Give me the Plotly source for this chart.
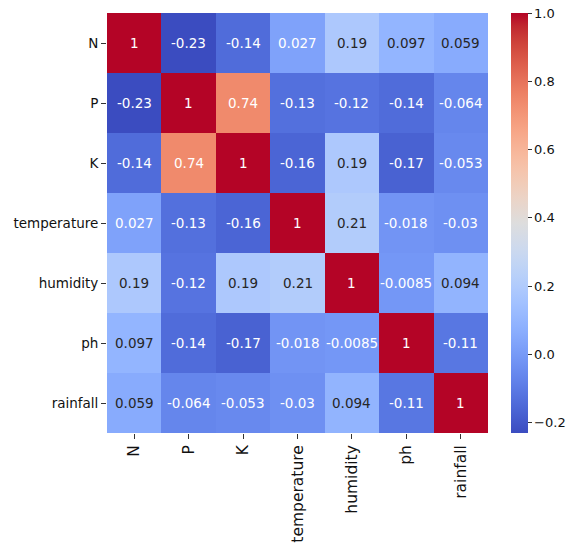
import plotly.graph_objects as go

labels = ["N", "P", "K", "temperature", "humidity", "ph", "rainfall"]
row_N = [1, -0.23, -0.14, 0.027, 0.19, 0.097, 0.059]
row_P = [-0.23, 1, 0.74, -0.13, -0.12, -0.14, -0.064]
row_K = [-0.14, 0.74, 1, -0.16, 0.19, -0.17, -0.053]
row_temperature = [0.027, -0.13, -0.16, 1, 0.21, -0.018, -0.03]
row_humidity = [0.19, -0.12, 0.19, 0.21, 1, -0.0085, 0.094]
row_ph = [0.097, -0.14, -0.17, -0.018, -0.0085, 1, -0.11]
row_rainfall = [0.059, -0.064, -0.053, -0.03, 0.094, -0.11, 1]
matrix = [row_N, row_P, row_K, row_temperature, row_humidity, row_ph, row_rainfall]
cbar_ticks = [-0.2, 0.0, 0.2, 0.4, 0.6, 0.8, 1.0]

# matplotlib "coolwarm" control points
coolwarm = [
    (59, 76, 192), (68, 90, 204), (77, 104, 215), (87, 117, 225), (98, 130, 234),
    (108, 142, 241), (119, 154, 247), (130, 165, 251), (141, 176, 254), (152, 185, 255),
    (163, 194, 255), (174, 201, 253), (184, 208, 249), (194, 213, 244), (204, 217, 238),
    (213, 219, 230), (221, 221, 221), (229, 216, 209), (236, 211, 197), (241, 204, 184),
    (245, 196, 172), (247, 187, 160), (247, 177, 148), (247, 166, 135), (244, 154, 123),
    (241, 141, 111), (236, 127, 99), (229, 112, 89), (222, 96, 77), (213, 80, 66),
    (203, 62, 56), (192, 40, 47), (180, 4, 38),
]
n = len(coolwarm) - 1
colorscale = [[i / n, "rgb(%d,%d,%d)" % c] for i, c in enumerate(coolwarm)]

zmin = min(min(r) for r in matrix)
zmax = max(max(r) for r in matrix)


def cmap(t):
    t = max(0.0, min(1.0, t))
    p = t * n
    i = min(int(p), n - 1)
    f = p - i
    a, b = coolwarm[i], coolwarm[i + 1]
    return tuple(a[k] + (b[k] - a[k]) * f for k in range(3))


def luminance(rgb):
    out = []
    for c in rgb:
        c = c / 255.0
        out.append(c / 12.92 if c <= 0.03928 else ((c + 0.055) / 1.055) ** 2.4)
    return 0.2126 * out[0] + 0.7152 * out[1] + 0.0722 * out[2]


annotations = []
for i, row in enumerate(matrix):
    for j, v in enumerate(row):
        col = cmap((v - zmin) / (zmax - zmin))
        tc = "#262626" if luminance(col) > 0.408 else "white"
        annotations.append(dict(
            x=labels[j], y=labels[i], xref="x", yref="y",
            text=format(v, ".2g"), showarrow=False,
            font=dict(family="DejaVu Sans", size=13.5, color=tc),
        ))

fig = go.Figure(go.Heatmap(
    z=matrix, x=labels, y=labels,
    colorscale=colorscale, zmin=zmin, zmax=zmax,
    colorbar=dict(
        xref="container", x=511 / 568, xanchor="left", xpad=0, ypad=0,
        y=0.5, yanchor="middle", len=1, lenmode="fraction",
        thickness=17, outlinewidth=0,
        tickvals=cbar_ticks, tickformat=".1f",
        ticks="outside", ticklen=4, tickcolor="#333",
        tickfont=dict(family="DejaVu Sans", size=13, color="#111"),
    ),
    hoverongaps=False,
))

fig.update_layout(
    width=568, height=546,
    margin=dict(l=107, r=80, t=13, b=113, autoexpand=False),
    paper_bgcolor="white", plot_bgcolor="white",
    annotations=annotations,
    xaxis=dict(
        tickangle=-90, ticks="outside", ticklen=5, tickcolor="#333",
        tickfont=dict(family="DejaVu Sans", size=15.5, color="#111"),
        showgrid=False, zeroline=False, showline=False,
    ),
    yaxis=dict(
        autorange="reversed", ticks="outside", ticklen=5, tickcolor="#333",
        tickfont=dict(family="DejaVu Sans", size=13.5, color="#111"),
        showgrid=False, zeroline=False, showline=False,
    ),
)

fig.write_html("out.html", config={"displayModeBar": False},
               post_script="document.body.style.margin='0';")
